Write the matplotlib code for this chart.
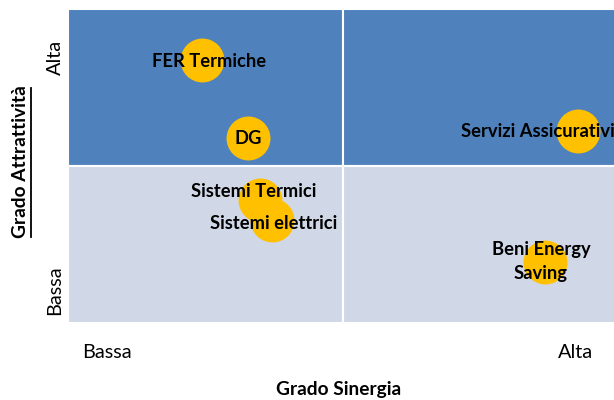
import matplotlib.pyplot as plt

# dati: grado di sinergia (x) e di attrattività (y), scala 0-10
nomi = ["FER Termiche", "DG", "Servizi Assicurativi", "Sistemi Termici",
        "Sistemi elettrici", "Beni Energy\nSaving"]
sinergia = [2.44, 3.27, 9.27, 3.49, 3.71, 8.67]
attrattivita = [8.38, 5.89, 6.11, 3.92, 3.28, 1.94]

# posizione delle etichette rispetto alla bolla (unità dati)
off_x = [0.13, 0.0, -2.12, -0.11, 0.02, -0.07]
off_y = [-0.05, 0.0, 0.0, 0.26, -0.12, 0.02]
allin = ["center", "center", "left", "center", "center", "center"]

plt.rcParams['font.family'] = ['Lato', 'DejaVu Sans']

fig = plt.figure(figsize=(6.14, 4.0), dpi=100)
ax = fig.add_axes([68 / 614, 77 / 400, 550 / 614, 314 / 400])
ax.set_xlim(0, 10)
ax.set_ylim(0, 10)
ax.axis("off")

# quadranti
ax.bar([0, 5], 5, width=5, bottom=5, align="edge", color="#4F81BD",
       edgecolor="white", linewidth=1.5)
ax.bar([0, 5], 5, width=5, bottom=0, align="edge", color="#D0D8E8",
       edgecolor="white", linewidth=1.5)

ax.scatter(sinergia, attrattivita, s=1000, color="#FFC000", zorder=3,
           linewidths=0, clip_on=False)

for n, x, y, dx, dy, ha in zip(nomi, sinergia, attrattivita, off_x, off_y, allin):
    if ha == "left":
        ax.text((461 - 68) / 55, y + dy, n, ha="left", va="center",
                fontsize=13.2, fontweight="bold", zorder=4, linespacing=1.45)
    else:
        ax.text(x + dx, y + dy, n, ha=ha, va="center", fontsize=13.2,
                fontweight="bold", zorder=4, linespacing=1.45)

# etichette assi
fig.text(55 / 614, 1 - 57 / 400, "Alta", rotation=90, ha="center", va="center", fontsize=14.3)
fig.text(55 / 614, 1 - 290 / 400, "Bassa", rotation=90, ha="center", va="center", fontsize=14.3)
fig.text(107 / 614, 1 - 353 / 400, "Bassa", ha="center", va="center", fontsize=14.3)
fig.text(575 / 614, 1 - 353 / 400, "Alta", ha="center", va="center", fontsize=14.3)
fig.text(339 / 614, 1 - 390 / 400, "Grado Sinergia", ha="center", va="center",
         fontsize=13.8, fontweight="bold")
fig.text(21 / 614, 1 - 162 / 400, "Grado Attrattività", rotation=90, ha="center",
         va="center", fontsize=13.8, fontweight="bold")
# sottolineatura
fig.add_artist(plt.Line2D([31 / 614, 31 / 614], [1 - 237 / 400, 1 - 88 / 400],
                          color="black", linewidth=1.3))

fig.savefig("out.png", dpi=100)
